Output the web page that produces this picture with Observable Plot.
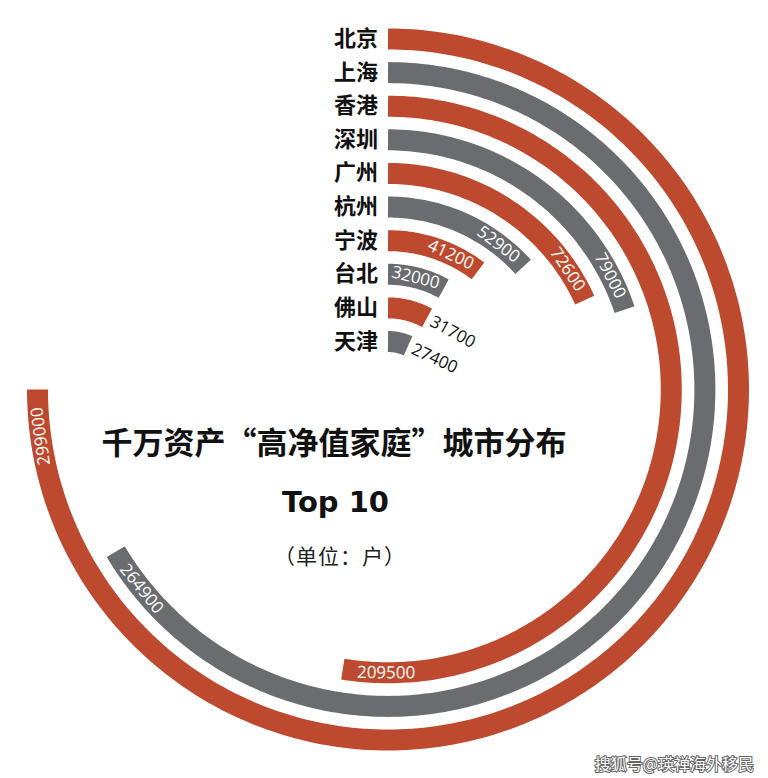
<!DOCTYPE html>
<html>
<head>
<meta charset="utf-8">
<script src="https://cdn.jsdelivr.net/npm/d3@7"></script>
<script src="https://cdn.jsdelivr.net/npm/@observablehq/plot@0.6"></script>
<style>
  body { margin: 0; background: #fff; }
  #wrap { position: relative; width: 768px; height: 778px; overflow: hidden; background: #fff; }
  #wrap svg { position: absolute; left: 0; top: 0; }
  .t { position: absolute; white-space: nowrap; text-align: center; line-height: 1; color: #111; }
  #title { left: 0; width: 668px; top: 418px; font: 700 31px "Noto Sans CJK SC", sans-serif; }
  #top10 { left: 0; width: 671px; top: 485px; font: 700 29px "DejaVu Sans", sans-serif; }
  #unit { left: 0; width: 680px; top: 540px; font: 400 21px "Noto Sans CJK SC", sans-serif; color: #222; letter-spacing: 1px; }
  #mark { right: 14px; top: 751px; font: 400 16px "Noto Sans CJK SC", sans-serif; color: #fff;
          -webkit-text-stroke: 2px #666; paint-order: stroke fill; }
</style>
</head>
<body>
<div id="wrap">
  <div class="t" id="title">千万资产“高净值家庭”城市分布</div>
  <div class="t" id="top10">Top 10</div>
  <div class="t" id="unit">（单位：户）</div>
  <div class="t" id="mark">搜狐号@瑛禅海外移民</div>
</div>
<script>
// ---- data ----
const cities = ["北京", "上海", "香港", "深圳", "广州", "杭州", "宁波", "台北", "佛山", "天津"];
const households = [299000, 264900, 209500, 79000, 72600, 52900, 41200, 32000, 31700, 27400];
const fullSweepValue = 299000; // value reaching 270°

// ---- styling / layout ----
const RED = "#bd4a2e", GRAY = "#6b6c70";
const rad = Math.PI / 180;
const angle = d3.scaleLinear().domain([0, fullSweepValue]).range([0, 270]);
const radius = d3.scalePoint().domain(cities).range([350.5, 48]);
const FS = 17, digitW = 0.572 * FS;

const rows = cities.map((city, i) => ({
  city, i, value: households[i],
  theta: angle(households[i]),
  r: radius(city),
  color: i % 2 ? GRAY : RED
}));

// arc geometry derived from each value
const arcPts = rows.flatMap(d => {
  const pts = [];
  const n = Math.ceil(d.theta);
  for (let k = 0; k <= n; k++) {
    const a = Math.min(k, d.theta);
    pts.push({city: d.city, color: d.color, x: d.r * Math.sin(a * rad), y: d.r * Math.cos(a * rad)});
  }
  return pts;
});

// value labels
const labels = rows.map(d => {
  const w = String(d.value).length * digitW;
  const arcLen = d.r * d.theta * rad;
  const inside = arcLen > w + 6;
  const flip = d.theta > 90 && d.theta < 270;
  if (inside) {
    const tc = d.theta - 2.9 - (w / 2) / d.r / rad;
    return {text: String(d.value), inside, x: d.r * Math.sin(tc * rad), y: d.r * Math.cos(tc * rad),
            rotate: flip ? tc - 180 : tc};
  } else {
    const te = d.theta + 5 / d.r / rad;
    return {text: String(d.value), inside, x: d.r * Math.sin(te * rad), y: d.r * Math.cos(te * rad),
            rotate: d.theta};
  }
});

const chart = Plot.plot({
  width: 768,
  height: 778,
  margin: 0,
  x: {domain: [-387.5, 380.5], axis: null},
  y: {domain: [-389, 389], axis: null},
  style: {background: "transparent", overflow: "visible"},
  marks: [
    Plot.line(arcPts, {filter: d => d.color === RED, x: "x", y: "y", z: "city",
      stroke: RED, strokeWidth: 21, strokeLinecap: "butt", strokeLinejoin: "round"}),
    Plot.line(arcPts, {filter: d => d.color === GRAY, x: "x", y: "y", z: "city",
      stroke: GRAY, strokeWidth: 21, strokeLinecap: "butt", strokeLinejoin: "round"}),
    Plot.text(rows, {x: () => 0, y: "r", text: "city", textAnchor: "end", dx: -10,
      fontSize: 22, fontWeight: 700, fontFamily: "'Noto Sans CJK SC', sans-serif", fill: "#111"}),
    Plot.text(labels.filter(d => d.inside), {x: "x", y: "y", text: "text", rotate: "rotate",
      textAnchor: "middle", fill: "#fff", fontSize: FS, fontFamily: "'Open Sans', sans-serif"}),
    Plot.text(labels.filter(d => !d.inside), {x: "x", y: "y", text: "text", rotate: "rotate",
      textAnchor: "start", fill: "#111", fontSize: FS, fontFamily: "'Open Sans', sans-serif"})
  ]
});
document.getElementById("wrap").prepend(chart);
</script>
</body>
</html>
